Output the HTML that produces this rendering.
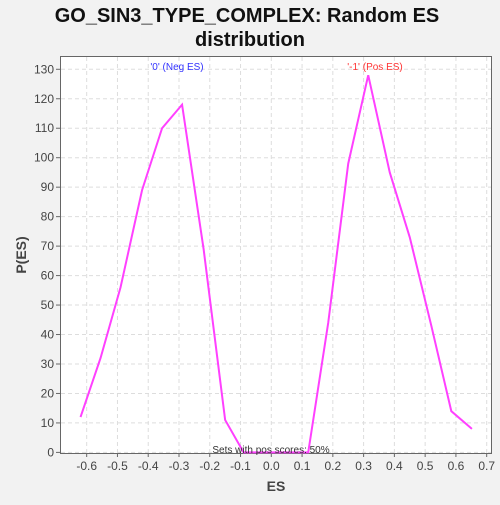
<!DOCTYPE html>
<html><head><meta charset="utf-8"><style>
body{margin:0;background:#f2f2f2;font-family:"Liberation Sans",sans-serif}
</style></head><body>
<svg width="500" height="500" xmlns="http://www.w3.org/2000/svg">
<rect width="500" height="500" fill="#f2f2f2"/>
<text x="247" y="22" text-anchor="middle" font-size="20" font-weight="bold" fill="#111">GO_SIN3_TYPE_COMPLEX: Random ES</text>
<text x="250" y="46" text-anchor="middle" font-size="20" font-weight="bold" fill="#111">distribution</text>
<rect x="60.5" y="56.5" width="431" height="397" fill="#fff" stroke="#666"/>
<g id="grid"></g><g id="axes"></g>
<polyline id="line" fill="none" stroke="#ff40ff" stroke-width="2"/>
<text x="177" y="70" text-anchor="middle" font-size="10" fill="#3333ff">'0' (Neg ES)</text>
<text x="375" y="70" text-anchor="middle" font-size="10" fill="#ff3333">'-1' (Pos ES)</text>
<text x="271" y="453" text-anchor="middle" font-size="10" fill="#333">Sets with pos scores: 50%</text>
<text x="276" y="491" text-anchor="middle" font-size="14" font-weight="bold" fill="#444">ES</text>
<text transform="translate(26,255) rotate(-90)" text-anchor="middle" font-size="14" font-weight="bold" fill="#444">P(ES)</text>
</svg>
<script>
const xs=[-0.62,-0.555,-0.49,-0.42,-0.355,-0.29,-0.22,-0.15,-0.09,0.12,0.185,0.25,0.315,0.385,0.45,0.52,0.585,0.652];
const ys=[12,32,56,89,110,118,69,11,0,0,44,98,128,95,73,43,14,8];
const xTicks=[-0.6,-0.5,-0.4,-0.3,-0.2,-0.1,0.0,0.1,0.2,0.3,0.4,0.5,0.6,0.7];
const yTicks=[0,10,20,30,40,50,60,70,80,90,100,110,120,130];
const X=v=>271.3+v*307.7, Y=v=>452.4-v*2.947;
const NS="http://www.w3.org/2000/svg";
const g=document.getElementById('grid'),a=document.getElementById('axes');
function mk(t,at,p){const e=document.createElementNS(NS,t);for(const k in at)e.setAttribute(k,at[k]);p.appendChild(e);return e;}
xTicks.forEach(t=>{const x=X(t);
 const l=mk('line',{x1:x,x2:x,y1:57,y2:453,stroke:'#ddd','stroke-dasharray':'4,3'},g);
 
 
 mk('line',{x1:x,x2:x,y1:453,y2:457,stroke:'#666'},a);
 const tx=mk('text',{x:x,y:470,'text-anchor':'middle','font-size':12,fill:'#444'},a);tx.textContent=t.toFixed(1);
 
 });
yTicks.forEach(t=>{const y=Y(t);
 const l=mk('line',{x1:61,x2:491,y1:y,y2:y,stroke:'#ddd','stroke-dasharray':'4,3'},g);
 
 
 mk('line',{x1:56,x2:60,y1:y,y2:y,stroke:'#666'},a);
 const tx=mk('text',{x:54,y:y+4,'text-anchor':'end','font-size':12,fill:'#444'},a);tx.textContent=t;
 
 });
document.getElementById('line').setAttribute('points',xs.map((v,i)=>X(v)+','+Y(ys[i])).join(' '));
</script>
</body></html>
